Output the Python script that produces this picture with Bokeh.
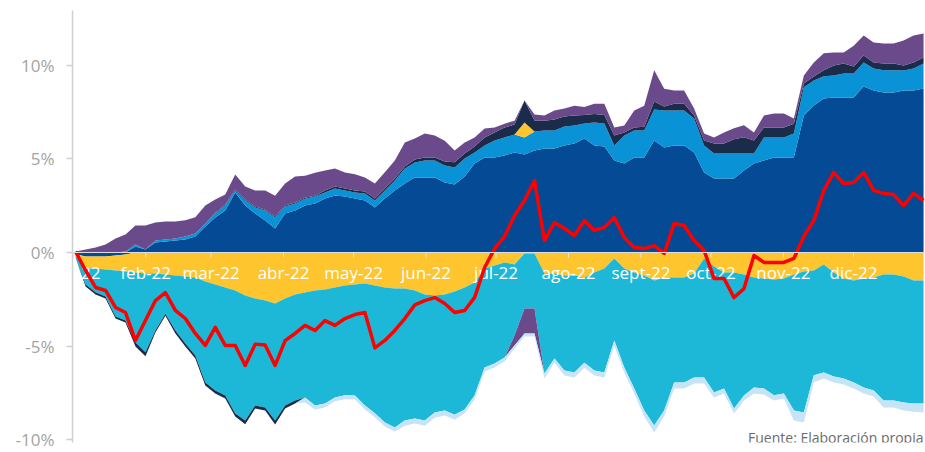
import pandas as pd
from bokeh.plotting import figure
from bokeh.models import ColumnDataSource, Range1d, FixedTicker, Span, Label
from bokeh.core.properties import value
from bokeh.embed import file_html
from bokeh.resources import INLINE

# ---- data (percent) ----
dates = pd.date_range("2022-01-02", "2022-12-31", periods=86)

pos_dark_blue = [0, 0, 0, 0, 0, 0, 0.32, 0.16, 0.53, 0.59, 0.64, 0.70, 0.86, 1.39, 1.87, 2.25, 3.21, 2.51, 2.09, 1.71,
                 1.28, 2.09, 2.25, 2.51, 2.62, 2.89, 3.05, 2.99, 2.89, 2.78, 2.41, 2.89, 3.32, 3.69, 4.01, 4.01, 4.01, 3.74, 3.64, 4.06,
                 4.76, 5.08, 5.08, 5.19, 5.35, 5.24, 5.45, 5.56, 5.56, 5.72, 5.83, 6.10, 5.72, 5.67, 4.92, 4.76, 5.08, 5.08, 5.99, 5.61,
                 5.72, 5.72, 5.35, 4.28, 3.96, 3.96, 3.96, 4.39, 4.76, 4.92, 5.08, 5.08, 5.08, 7.33, 7.86, 8.24, 8.29, 8.29, 8.29, 8.88,
                 8.66, 8.56, 8.56, 8.66, 8.66, 8.77]
pos_light_blue = [0, 0, 0, 0, 0, 0.05, 0.11, 0, 0.11, 0.11, 0.11, 0.16, 0.16, 0.16, 0.21, 0.27, 0.11, 0.27, 0.32, 0.53,
                  0.59, 0.37, 0.37, 0.37, 0.37, 0.32, 0.37, 0.32, 0.32, 0.37, 0.37, 0.43, 0.53, 0.80, 0.80, 0.91, 0.91, 0.91, 0.91, 0.96,
                  0.59, 0.64, 0.91, 0.96, 0.96, 0.91, 1.02, 0.96, 0.96, 1.02, 0.96, 0.80, 1.23, 1.23, 0.80, 1.50, 1.44, 1.44, 1.66, 1.98,
                  1.87, 1.87, 1.82, 1.44, 1.34, 1.34, 1.34, 0.91, 0.53, 1.23, 1.07, 1.07, 1.28, 1.50, 1.34, 1.18, 1.18, 1.28, 1.28, 1.28,
                  1.18, 1.18, 1.18, 1.07, 1.18, 1.34]
pos_yellow = [0] * 45 + [0.80] + [0] * 40
pos_navy = [0] * 14 + [0.05] * 11 + [0.11] * 9 + [0.16, 0.16, 0.16, 0.21, 0.27, 0.27,
            0.32, 0.43, 0.43, 0.53, 0.53, 1.18, 0.59, 0.53, 0.59, 0.53, 0.53, 0.45, 0.45, 0.45, 0.53, 0.16, 0.16, 0.21, 0.43, 0.21,
            0.37, 0.37, 0.16, 0.27, 0.53, 0.53, 0.75, 0.86, 0.70, 0.53, 0.53, 0.53, 0.53, 0.21, 0.21, 0.32, 0.53, 0.53, 0.37, 0.37,
            0.32, 0.37, 0.37, 0.27, 0.32, 0.32]
pos_purple = [0.05, 0.16, 0.27, 0.43, 0.75, 0.91, 1.02, 1.28, 0.96, 0.96, 0.91, 0.86, 0.86, 0.96, 0.70, 0.53, 0.80, 0.70, 0.86, 1.02,
              1.12, 1.18, 1.39, 1.18, 1.23, 1.07, 0.96, 0.86, 0.86, 0.75, 0.80, 0.86, 0.96, 1.28, 1.12, 1.28, 1.18, 1.12, 0.64, 0.59,
              0.48, 0.48, 0.27, 0.21, 0.21, 0, 0.32, 0.27, 0.48, 0.43, 0.53, 0.43, 0.55, 0.60, 0.43, 0.37, 0.91, 1.12, 1.66, 0.96,
              0.70, 0.70, 0.37, 0.37, 0.32, 0.59, 0.59, 0.64, 0.43, 0.64, 0.75, 0.75, 0.27, 0.43, 0.75, 0.91, 0.70, 0.59, 1.12, 1.07,
              1.07, 1.07, 1.07, 1.34, 1.44, 1.28]

neg_dark_blue = [-0.10, -0.21, -0.21, -0.21, -0.16, -0.11] + [0] * 80
neg_yellow = [-0.10, -0.64, -0.64, -0.70, -0.80, -0.91, -1.07, -1.12, -1.12, -1.18, -1.23, -1.28, -1.34, -1.55, -1.71, -1.87, -2.03, -2.30, -2.46, -2.57,
              -2.73, -2.46, -2.25, -2.14, -2.03, -1.98, -1.87, -1.76, -1.71, -1.66, -1.76, -1.87, -1.93, -1.93, -2.03, -2.25, -2.30, -2.25, -2.09, -1.87,
              -1.60, -0.86, -0.70, -0.53, -0.64, -0.05, -0.05, -1.12, -1.12, -1.23, -1.23, -1.34, -1.07, -0.86, -0.32, -0.86, -1.07, -1.23, -1.50, -1.34,
              -1.34, -1.34, -1.12, -0.32, -0.75, -1.07, -1.07, -1.18, -1.34, -1.39, -1.44, -1.39, -1.18, -1.02, -0.96, -0.64, -1.07, -1.39, -1.50, -1.39,
              -1.34, -1.18, -1.18, -1.28, -1.50, -1.50]
neg_cyan = [-0.10, -0.86, -1.28, -1.44, -2.46, -2.62, -3.74, -4.22, -3.05, -2.09, -2.94, -3.58, -4.17, -5.40, -5.67, -5.78, -6.58, -6.68, -5.72, -5.72,
            -6.26, -5.72, -5.67, -5.61, -6.15, -6.10, -5.88, -5.88, -5.94, -6.52, -6.84, -7.22, -7.43, -7.06, -6.84, -6.74, -6.26, -6.20, -6.58, -6.52,
            -6.04, -5.29, -5.24, -5.08, -3.80, -2.94, -2.94, -5.35, -4.55, -5.08, -5.19, -4.55, -5.24, -5.56, -4.39, -5.29, -6.20, -7.22, -7.75, -7.11,
            -5.61, -5.61, -5.56, -6.36, -6.74, -6.20, -7.27, -6.47, -5.88, -5.88, -6.20, -6.15, -7.27, -7.54, -5.61, -5.78, -5.56, -5.35, -5.45, -5.83,
            -6.04, -6.74, -6.74, -6.74, -6.58, -6.58]
neg_purple = [0] * 44 + [-0.53, -1.34, -1.34] + [0] * 39
neg_navy = [0, -0.11, -0.11, -0.11, -0.11, -0.11, -0.21, -0.21, -0.11, -0.11, -0.16, -0.16, -0.16, -0.16, -0.16, -0.16, -0.16, -0.21, -0.16, -0.16,
            -0.21, -0.16, -0.16] + [0] * 63
neg_pale = [0] * 23 + [-0.27, -0.21, -0.21, -0.21, -0.21, -0.21, -0.21, -0.21, -0.21, -0.21, -0.27, -0.27, -0.27, -0.27, -0.27, -0.27, -0.21,
            -0.21, -0.21, -0.21, -0.21, -0.16, -0.16, -0.16, -0.27, -0.21, -0.27, -0.27, -0.27, -0.27, -0.27, -0.27, -0.27, -0.27, -0.32, -0.37, -0.32,
            -0.32, -0.32, -0.32, -0.32, -0.27, -0.27, -0.27, -0.27, -0.32, -0.32, -0.27, -0.27, -0.53, -0.53, -0.37, -0.32, -0.32, -0.32, -0.32, -0.32,
            -0.32, -0.37, -0.37, -0.43, -0.43, -0.48]

net = [0.05, -0.96, -1.87, -2.03, -2.94, -3.21, -4.71, -3.64, -2.57, -2.14, -3.10, -3.53, -4.33, -4.97, -4.00, -4.97, -4.97, -6.04, -4.90, -4.95,
       -6.04, -4.71, -4.33, -3.90, -4.17, -3.64, -3.90, -3.53, -3.32, -3.21, -5.10, -4.70, -4.17, -3.53, -2.80, -2.57, -2.41, -2.73, -3.21, -3.10,
       -2.40, -0.80, 0.21, 0.86, 1.98, 2.78, 3.85, 0.64, 1.60, 1.28, 0.91, 1.71, 1.18, 1.34, 1.87, 0.80, 0.27, 0.21, 0.37, -0.05,
       1.55, 1.44, 0.64, 0.11, -1.39, -1.39, -2.41, -1.93, -0.16, -0.53, -0.53, -0.53, -0.32, 0.86, 1.71, 3.32, 4.28, 3.69, 3.74, 4.28,
       3.32, 3.16, 3.10, 2.51, 3.16, 2.78]

month_starts = pd.date_range("2022-01-01", periods=12, freq="MS")
month_labels = ["ene-22", "feb-22", "mar-22", "abr-22", "may-22", "jun-22",
                "jul-22", "ago-22", "sept-22", "oct-22", "nov-22", "dic-22"]
y_ticks = [-10, -5, 0, 5, 10]
y_tick_labels = ["-10%", "-5%", "0%", "5%", "10%"]

# ---- figure ----
FONT = "Open Sans"
src = ColumnDataSource(dict(
    date=dates, pdb=pos_dark_blue, plb=pos_light_blue, pye=pos_yellow, pnv=pos_navy, ppu=pos_purple,
    ndb=neg_dark_blue, nye=neg_yellow, ncy=neg_cyan, npu=neg_purple, nnv=neg_navy, npa=neg_pale, net=net))

p = figure(width=925, height=452, x_axis_type="datetime", x_axis_location=None,
           output_backend="svg", toolbar_location=None,
           x_range=Range1d(pd.Timestamp("2021-12-31 16:00"), pd.Timestamp("2022-12-31 20:00")),
           y_range=Range1d(-10.16, 12.94),
           min_border_left=72, min_border_right=0, min_border_top=10, min_border_bottom=10)
p.outline_line_color = None
p.grid.visible = False
p.background_fill_color = "white"
p.border_fill_color = "white"

p.varea_stack(stackers=["pdb", "plb", "pye", "pnv", "ppu"], x="date",
              color=["#044A94", "#0A92D6", "#FEC52E", "#1B2B4A", "#6A4A8B"], source=src)
p.varea_stack(stackers=["ndb", "nye", "ncy", "npu", "nnv", "npa"], x="date",
              color=["#044A94", "#FEC52E", "#1DB8D7", "#6A4A8B", "#1B2B4A", "#C6E4F6"], source=src)

p.add_layout(Span(location=0, dimension="width", line_color="#dedede", line_width=1))
p.segment(x0=month_starts, y0=[0] * 12, x1=month_starts, y1=[-0.28] * 12,
          line_color="#e4e4e4", line_width=1)
p.text(x=month_starts, y=[-1.07] * 12, text=month_labels, text_color="white",
       text_align="center", text_baseline="middle",
       text_font=value(FONT), text_font_size="17px")

p.line(x="date", y="net", source=src, line_color="#FF0000", line_width=3.5, line_join="round")

ax = p.yaxis[0]
ax.ticker = FixedTicker(ticks=y_ticks)
ax.major_label_overrides = {t: l for t, l in zip(y_ticks, y_tick_labels)}
ax.axis_line_color = "#cfcfcf"
ax.axis_line_width = 1.5
ax.major_tick_line_color = "#cfcfcf"
ax.major_tick_line_width = 1.5
ax.major_tick_in = 0
ax.major_tick_out = 6
ax.minor_tick_line_color = None
ax.major_label_standoff = 12
ax.major_label_text_color = "#a3a3a3"
ax.major_label_text_font = FONT
ax.major_label_text_font_size = "17px"

p.add_layout(Label(x=851, y=-4, x_units="screen", y_units="screen",
                   text="Fuente: Elaboración propia", text_align="right", text_baseline="bottom",
                   text_color="#6b6b6b", text_font=FONT, text_font_size="14px"))

open("out.html", "w").write(file_html(p, INLINE))
